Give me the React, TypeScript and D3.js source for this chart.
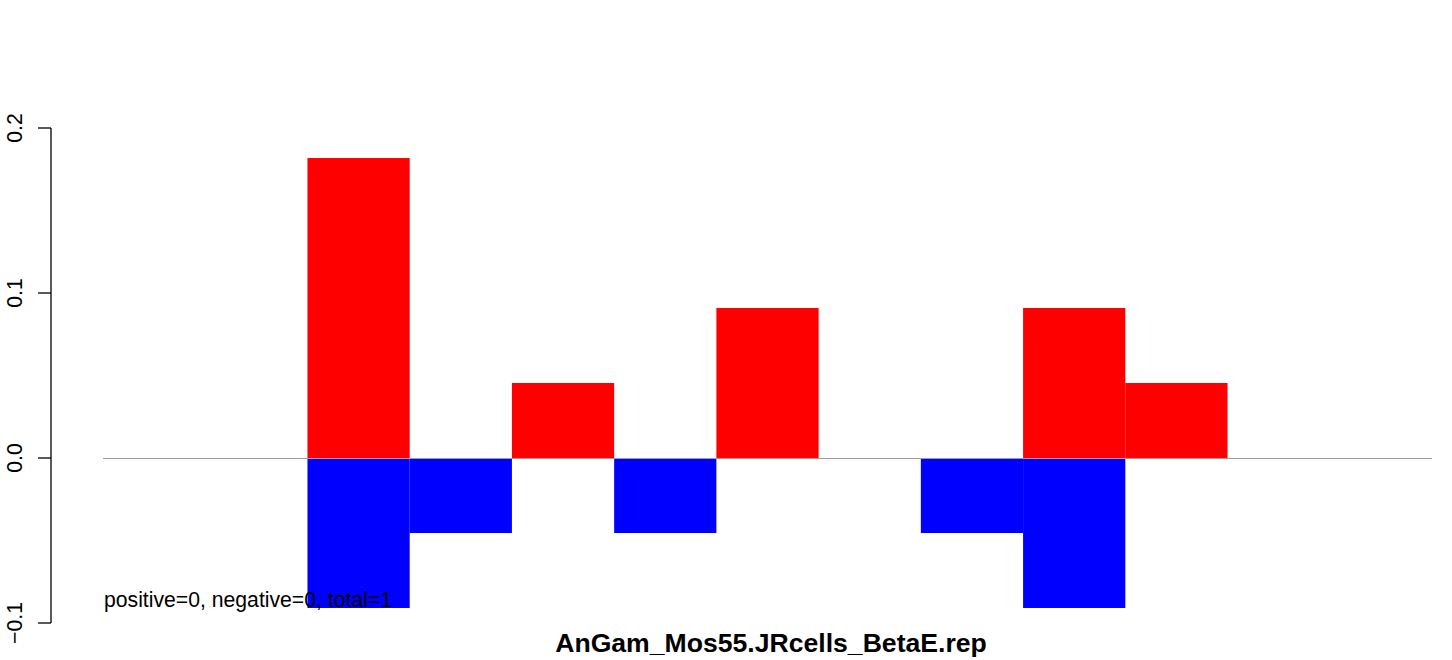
import React from "react";
import * as d3 from "d3";

const categories = ["1", "2", "3", "4", "5", "6", "7", "8", "9", "10", "11", "12", "13"];
const positiveValues = [0, 0, 0.1818, 0, 0.04545, 0, 0.0909, 0, 0, 0.0909, 0.04545, 0, 0];
const negativeValues = [0, 0, -0.0909, -0.04545, 0, -0.04545, 0, 0, -0.04545, -0.0909, 0, 0, 0];
const yTicks = [-0.1, 0.0, 0.1, 0.2];
const title = "AnGam_Mos55.JRcells_BetaE.rep";
const note = "positive=0, negative=0, total=1";

const W = 1452;
const H = 660;
const font = "'Liberation Sans', Arial, Helvetica, sans-serif";

export default function App() {
  const x = d3.scaleBand<string>().domain(categories).range([103, 1432]).paddingInner(0).paddingOuter(0);
  const y = d3.scaleLinear().domain([-0.1, 0.2]).range([623, 128]);
  const y0 = y(0);
  return (
    <svg width={W} height={H} style={{ position: "absolute", left: 0, top: 0, background: "#fff" }}>
      <rect x={0} y={0} width={W} height={H} fill="#fff" />
      {categories.map((c, i) =>
        positiveValues[i] > 0 ? (
          <rect key={"p" + c} x={x(c)} y={y(positiveValues[i])} width={x.bandwidth()} height={y0 - y(positiveValues[i])} fill="#ff0000" />
        ) : null
      )}
      {categories.map((c, i) =>
        negativeValues[i] < 0 ? (
          <rect key={"n" + c} x={x(c)} y={y0} width={x.bandwidth()} height={y(negativeValues[i]) - y0} fill="#0000ff" />
        ) : null
      )}
      <line x1={103} x2={1432} y1={y0 + 0.5} y2={y0 + 0.5} stroke="#9e9e9e" strokeWidth={1} shapeRendering="crispEdges" />
      <line x1={51} x2={51} y1={y(-0.1)} y2={y(0.2)} stroke="#000" strokeWidth={1.3} />
      {yTicks.map((t) => (
        <g key={t}>
          <line x1={38} x2={51} y1={y(t)} y2={y(t)} stroke="#000" strokeWidth={1.3} />
          <text
            transform={`translate(22,${y(t)}) rotate(-90)`}
            textAnchor="middle"
            fontFamily={font}
            fontSize={21.3}
            fill="#000"
          >
            {t < 0 ? "\u2212" + Math.abs(t).toFixed(1) : t.toFixed(1)}
          </text>
        </g>
      ))}
      <text x={104} y={607} fontFamily={font} fontSize={21.2} fill="#000">
        {note}
      </text>
      <text x={771} y={652} textAnchor="middle" fontFamily={font} fontSize={26.6} fontWeight="bold" fill="#000">
        {title}
      </text>
    </svg>
  );
}
